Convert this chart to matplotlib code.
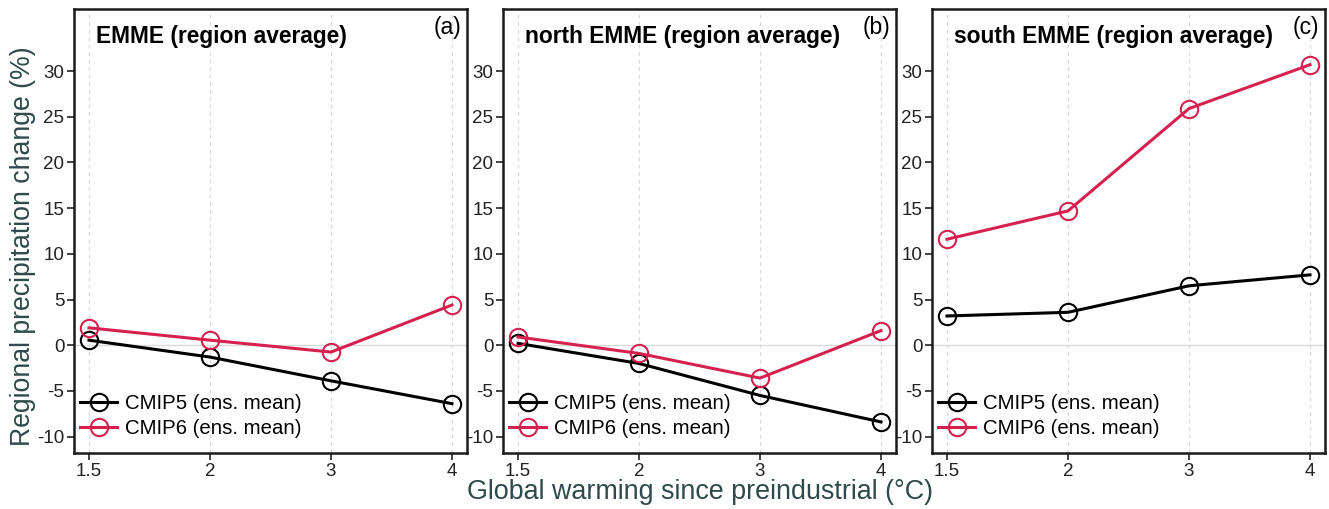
import matplotlib
matplotlib.use("Agg")
import matplotlib.pyplot as plt
import numpy as np

plt.rcParams['font.family'] = ['Liberation Sans', 'DejaVu Sans']
plt.rcParams['axes.unicode_minus'] = False

################## Data ########################################################

warming = ["1.5", "2", "3", "4"]
panels = ["EMME (region average)", "north EMME (region average)", "south EMME (region average)"]
tags = ["(a)", "(b)", "(c)"]

cmip5_emme = [0.55, -1.3, -3.9, -6.4]
cmip6_emme = [1.9, 0.55, -0.75, 4.4]
cmip5_north = [0.2, -2.0, -5.5, -8.4]
cmip6_north = [0.9, -0.9, -3.6, 1.6]
cmip5_south = [3.2, 3.6, 6.5, 7.7]
cmip6_south = [11.6, 14.7, 25.9, 30.7]

cmip5 = [cmip5_emme, cmip5_north, cmip5_south]
cmip6 = [cmip6_emme, cmip6_north, cmip6_south]

red = "#d6204f"
slate = "#2e4a4a"

################## Figure ######################################################

fig = plt.figure(figsize=(13.29, 5.09), dpi=100)
W, H = 1329, 509
lefts = [74, 503, 932]
aw = 393
top, bottom = 9, 453

x = np.arange(len(warming))
for k in range(3):
    ax = fig.add_axes([lefts[k] / W, 1 - bottom / H, aw / W, (bottom - top) / H])
    for xi in x:
        ax.axvline(xi, color="#d9d9d9", lw=0.9, ls=(0, (3, 3)), zorder=0)
    ax.axhline(0, color="#d9d9d9", lw=1.0, zorder=0)
    ax.plot(x, cmip5[k], color="black", lw=2.2, marker="o", ms=12.5, mfc="none",
            mew=1.5, label="CMIP5 (ens. mean)")
    ax.plot(x, cmip6[k], color=red, lw=2.2, marker="o", ms=12.5, mfc="none",
            mew=1.5, label="CMIP6 (ens. mean)")
    ax.set_xlim(-0.124, 3.124)
    ax.set_ylim(-11.8, 36.8)
    ax.set_xticks(x)
    ax.set_xticklabels(warming)
    ax.set_yticks([-10, -5, 0, 5, 10, 15, 20, 25, 30])
    ax.tick_params(labelsize=13.5, length=5, width=1.2, colors="#222222", pad=2)
    for s in ax.spines.values():
        s.set_linewidth(1.8)
        s.set_color("#1a1a1a")
    ax.text(0.055, 0.965, panels[k], transform=ax.transAxes, fontsize=16.4,
            fontweight="bold", va="top", ha="left")
    ax.text(0.985, 0.985, tags[k], transform=ax.transAxes, fontsize=16.5,
            va="top", ha="right")
    ax.legend(loc="lower left", bbox_to_anchor=(0.0, 0.02), frameon=False,
              fontsize=14.7, handlelength=1.8, handletextpad=0.4,
              borderaxespad=0.0, labelspacing=0.3, borderpad=0.3)

fig.text(23 / W, 1 - 246 / H, "Regional precipitation change (%)", fontsize=19.2,
         color=slate, rotation=90, ha="center", va="center")
fig.text(700 / W, 1 - 492 / H, "Global warming since preindustrial (°C)",
         fontsize=19.4, color=slate, ha="center", va="center")

plt.savefig("out.png", dpi=100)
